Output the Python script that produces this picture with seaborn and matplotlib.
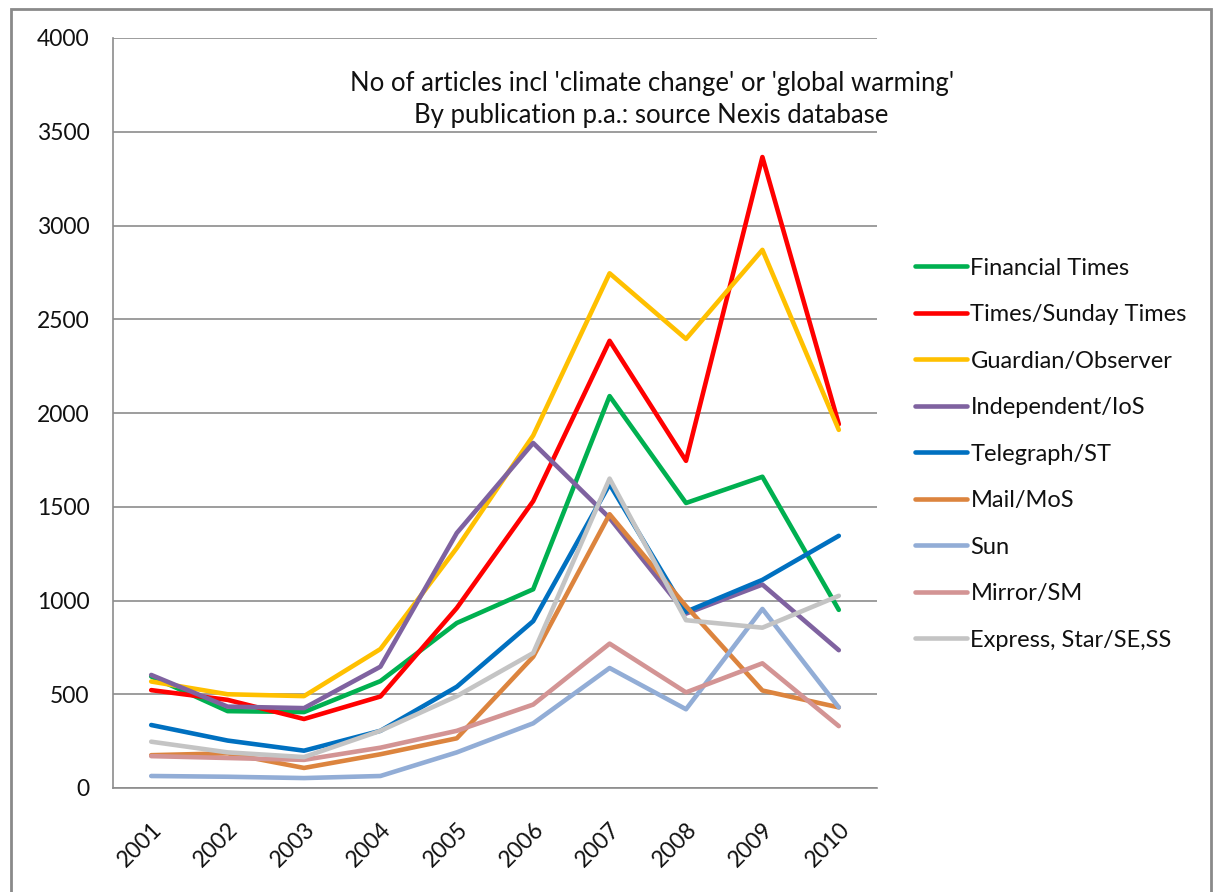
import pandas as pd
import matplotlib.pyplot as plt
import seaborn as sns
from matplotlib.patches import Rectangle

years = ["2001", "2002", "2003", "2004", "2005", "2006", "2007", "2008", "2009", "2010"]

financial_times = [595, 410, 405, 570, 880, 1060, 2090, 1520, 1660, 950]
times_sunday = [522, 470, 368, 488, 960, 1530, 2385, 1745, 3365, 1940]
guardian_observer = [568, 500, 490, 741, 1280, 1880, 2745, 2395, 2870, 1910]
independent_ios = [603, 434, 426, 647, 1360, 1840, 1440, 930, 1085, 735]
telegraph_st = [336, 253, 199, 305, 540, 890, 1620, 940, 1110, 1345]
mail_mos = [175, 185, 107, 180, 265, 700, 1460, 970, 520, 430]
sun = [64, 60, 53, 64, 190, 345, 640, 420, 955, 430]
mirror_sm = [170, 160, 150, 215, 305, 445, 770, 510, 665, 330]
express_star = [247, 190, 165, 305, 490, 720, 1650, 895, 855, 1025]

series = {
    "Financial Times": financial_times,
    "Times/Sunday Times": times_sunday,
    "Guardian/Observer": guardian_observer,
    "Independent/IoS": independent_ios,
    "Telegraph/ST": telegraph_st,
    "Mail/MoS": mail_mos,
    "Sun": sun,
    "Mirror/SM": mirror_sm,
    "Express, Star/SE,SS": express_star,
}
colors = ["#00B050", "#FF0000", "#FFC000", "#7F62A0", "#0070C0",
          "#DC843E", "#92ADD6", "#D39494", "#C4C4C4"]

df = pd.DataFrame(series)
df["pos"] = range(len(years))
long_df = df.melt(id_vars="pos", var_name="publication", value_name="articles")

sns.set_style("white")
plt.rcParams["font.family"] = ["Lato", "DejaVu Sans"]
plt.rcParams["text.color"] = "#111111"
plt.rcParams["xtick.labelcolor"] = "#111111"
plt.rcParams["ytick.labelcolor"] = "#111111"

fig = plt.figure(figsize=(12.18, 8.92), dpi=100)
ax = fig.add_axes([113 / 1218, 1 - 788 / 892, (877 - 113) / 1218, (788 - 38) / 892])

sns.lineplot(data=long_df, x="pos", y="articles", hue="publication",
             palette=colors, linewidth=3.3, ax=ax)

grid_c = "#8c8c8c"
ax.set_xlim(-0.5, 9.5)
ax.set_ylim(0, 4000)
ax.set_yticks(range(0, 4001, 500))
ax.yaxis.grid(True, color=grid_c, linewidth=1.2)
ax.set_axisbelow(True)
ax.set_xticks(range(len(years)))
ax.set_xticklabels(years, rotation=45, ha="right", rotation_mode="anchor")
ax.set_xticks([i - 0.5 for i in range(len(years) + 1)], minor=True)
ax.tick_params(axis="x", which="major", length=0, pad=22, labelsize=16.5)
ax.tick_params(axis="x", which="minor", length=6, color=grid_c, width=1.2)
ax.tick_params(axis="y", length=6, color=grid_c, width=1.2, pad=11, labelsize=16.5)
ax.set_xlabel("")
ax.set_ylabel("")
for side in ["top", "right"]:
    ax.spines[side].set_visible(False)
for side in ["left", "bottom"]:
    ax.spines[side].set_color(grid_c)
    ax.spines[side].set_linewidth(1.2)

ax.text(0.705, 0.918, "No of articles incl 'climate change' or 'global warming'\nBy publication p.a.: source Nexis database",
        transform=ax.transAxes, ha="center", va="center", fontsize=18.5, linespacing=1.3)

handles, labels = ax.get_legend_handles_labels()
ax.legend_.remove()
fig.legend(handles, labels, loc="center left", bbox_to_anchor=(915 / 1218, 0.491),
           frameon=False, fontsize=17, handlelength=2.2, handletextpad=0.15,
           labelspacing=1.08, borderpad=0, borderaxespad=0)

fig.patches.append(Rectangle((11 / 1218, -0.02), 1200 / 1218, 1.02 - 9 / 892,
                             transform=fig.transFigure, fill=False,
                             edgecolor="#8a8a8a", linewidth=2))

fig.savefig("out.png", dpi=100)
